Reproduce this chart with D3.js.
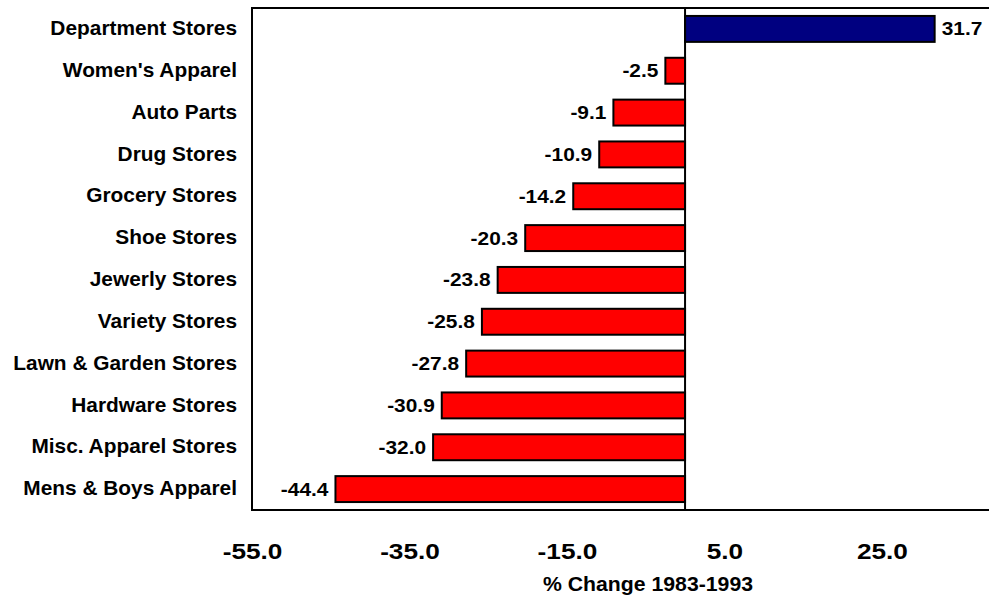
<!DOCTYPE html>
<html>
<head>
<meta charset="utf-8">
<script src="https://cdn.jsdelivr.net/npm/d3@7"></script>
<style>
  html, body { margin: 0; padding: 0; background: #fff; }
  text { font-family: "Liberation Sans", Arial, sans-serif; font-weight: bold; fill: #000; }
</style>
</head>
<body>
<svg id="chart" width="989" height="600"></svg>
<script>
// Store categories, top to bottom
const categories = [
  "Department Stores", "Women's Apparel", "Auto Parts", "Drug Stores",
  "Grocery Stores", "Shoe Stores", "Jewerly Stores", "Variety Stores",
  "Lawn & Garden Stores", "Hardware Stores", "Misc. Apparel Stores", "Mens & Boys Apparel"
];
// Percent change in number of stores, 1983-1993
const changes = [31.7, -2.5, -9.1, -10.9, -14.2, -20.3, -23.8, -25.8, -27.8, -30.9, -32.0, -44.4];
const tickValues = [-55, -35, -15, 5, 25];
const axisTitle = "% Change 1983-1993";

const svg = d3.select("#chart");
const plot = { left: 252, right: 1000, top: 8, bottom: 510 };

const x = d3.scaleLinear().domain([-55, 40]).range([plot.left, plot.right]);
const y = d3.scaleBand().domain(categories).range([plot.top, plot.bottom]).paddingInner(0.38).paddingOuter(0.19);

const rows = categories.map((c, i) => ({ c, v: changes[i] }));
const fmt = v => v.toFixed(1);   // plain hyphen-minus, one decimal

// Text in this chart is set slightly wide: draw glyphs at a given size, stretched horizontally
function wideText(sel, size, sx, ax, ay) {
  sel.style("font-size", size + "px")
     .attr("x", 0).attr("y", 0)
     .attr("transform", (d, i, n) => `translate(${ax(d, i, n)},${ay(d, i, n)}) scale(${sx},1)`);
}

// Frame of the plot area
svg.append("rect")
  .attr("x", plot.left).attr("y", plot.top)
  .attr("width", plot.right - plot.left).attr("height", plot.bottom - plot.top)
  .attr("fill", "none").attr("stroke", "#000").attr("stroke-width", 2);

// Bars
svg.append("g").selectAll("rect")
  .data(rows)
  .join("rect")
  .attr("x", d => x(Math.min(0, d.v)))
  .attr("y", d => y(d.c))
  .attr("width", d => Math.abs(x(d.v) - x(0)))
  .attr("height", y.bandwidth())
  .attr("fill", d => d.v >= 0 ? "#000080" : "#ff0000")
  .attr("stroke", "#000").attr("stroke-width", 2);

// Zero line
svg.append("line")
  .attr("x1", x(0)).attr("x2", x(0))
  .attr("y1", plot.top).attr("y2", plot.bottom)
  .attr("stroke", "#000").attr("stroke-width", 2);

// Value labels
svg.append("g").selectAll("text")
  .data(rows)
  .join("text")
  .attr("text-anchor", d => d.v >= 0 ? "start" : "end")
  .attr("dy", "0.35em")
  .text(d => fmt(d.v))
  .call(wideText, 18.5, 1.13,
        d => d.v >= 0 ? x(d.v) + 7 : x(d.v) - 7,
        d => y(d.c) + y.bandwidth() / 2);

// Category labels
const yAxis = svg.append("g")
  .attr("transform", `translate(${plot.left},0)`)
  .call(d3.axisLeft(y).tickSize(0).tickPadding(15));
yAxis.select(".domain").remove();
yAxis.selectAll("text")
  .attr("font-family", null)
  .call(wideText, 19.5, 1.07, () => -15, () => 0);

// X axis tick labels
const xAxis = svg.append("g")
  .attr("transform", `translate(0,${plot.bottom})`)
  .call(d3.axisBottom(x).tickValues(tickValues).tickSize(0).tickFormat(fmt));
xAxis.select(".domain").remove();
xAxis.selectAll("text")
  .attr("font-family", null)
  .attr("dy", null)
  .call(wideText, 22.5, 1.165, () => 0, () => 49);

// Axis title
svg.append("text")
  .datum(axisTitle)
  .attr("text-anchor", "middle")
  .text(d => d)
  .call(wideText, 19.5, 1.09, () => 648, () => 591);
</script>
</body>
</html>
